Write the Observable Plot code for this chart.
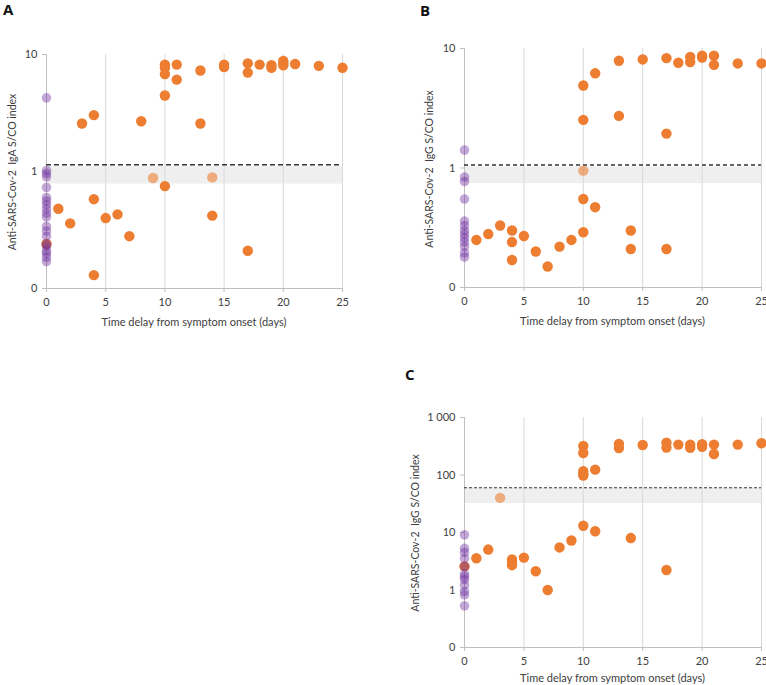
<!DOCTYPE html>
<html><head><meta charset="utf-8">
<script src="https://cdn.jsdelivr.net/npm/d3@7"></script>
<script src="https://cdn.jsdelivr.net/npm/@observablehq/plot@0.6"></script>
<style>
body{margin:0;background:#fff;font-family:Lato,"Open Sans",sans-serif;}
#wrap{position:relative;width:766px;height:685px;overflow:hidden;background:#fff;}
.panel{position:absolute;}
.letter{position:absolute;font:bold 15px "Open Sans",Arial,sans-serif;color:#111;line-height:1;}
.xt{position:absolute;font-size:11px;color:#404040;white-space:pre;transform:translate(-50%,-50%);line-height:1;}
.yt{position:absolute;font-size:10.5px;color:#404040;white-space:pre;transform:translate(-50%,-50%) rotate(-90deg);line-height:1;}
</style></head>
<body><div id="wrap"></div>
<script>
// ---------- shared axis data ----------
const dayTicks = [0, 5, 10, 15, 20, 25];
const dayDomain = [0, 25];
const xTitle = "Time delay from symptom onset (days)";

// ---------- Panel A : IgA ----------
const aPatients = [ // [days, S/CO]
  [10,8.2],[10,7.7],[10,6.8],[11,8.2],[11,6.1],[13,7.3],[15,8.2],[15,7.8],[17,8.4],[17,7.0],
  [18,8.2],[19,8.1],[19,7.7],[20,8.8],[20,8.4],[20,8.1],[21,8.3],[23,8.0],[25,7.7],[10,4.46],
  [3,2.57],[4,3.03],[8,2.69],[13,2.57],[10,0.75],[4,0.58],[1,0.48],[2,0.36],[5,0.40],[6,0.43],
  [7,0.28],[14,0.42],[17,0.21],[4,0.13],[0,0.24]
];
const aBorderline = [[9,0.88],[14,0.89]];
const aControls = [4.26,1.02,0.96,0.90,0.73,0.60,0.56,0.52,0.48,0.44,0.41,0.34,0.31,0.28,0.24,0.23,0.21,0.20,0.185,0.17];
const aBand = [0.78, 1.11];
const aCutoff = 1.14;
const aYTicks = [0.1, 1, 10];
const aYTitle = "Anti-SARS-Cov-2  IgA S/CO index";

// ---------- Panel B : IgG ----------
const bPatients = [
  [10,4.9],[11,6.2],[13,7.9],[15,8.1],[17,8.3],[18,7.6],[19,8.5],[19,7.7],[20,8.7],[20,8.4],
  [21,8.7],[21,7.3],[23,7.5],[25,7.5],[10,2.53],[13,2.73],[17,1.94],[10,0.55],[11,0.47],[10,0.29],
  [14,0.30],[14,0.21],[17,0.21],[1,0.25],[2,0.28],[3,0.33],[4,0.30],[4,0.24],[4,0.17],[5,0.27],
  [6,0.20],[7,0.15],[8,0.22],[9,0.25]
];
const bBorderline = [[10,0.95]];
const bControls = [1.41,0.84,0.77,0.55,0.36,0.33,0.30,0.28,0.26,0.24,0.22,0.195,0.18];
const bBand = [0.74, 1.02];
const bCutoff = 1.06;
const bYTicks = [0.1, 1, 10];
const bYTitle = "Anti-SARS-Cov-2  IgG S/CO index";

// ---------- Panel C : IgG ----------
const cPatients = [
  [10,319],[10,241],[10,117],[10,104],[10,98],[11,124],[13,346],[13,294],[15,333],[17,366],
  [17,300],[18,338],[19,338],[19,297],[20,343],[20,310],[21,338],[21,232],[23,338],[25,357],
  [10,13.1],[11,10.5],[14,8.0],[9,7.25],[8,5.5],[2,5.05],[1,3.57],[4,3.4],[4,3.1],[4,2.7],
  [5,3.66],[6,2.12],[7,1.0],[17,2.23],[0,2.57]
];
const cBorderline = [[3,40]];
const cControls = [9.1,5.3,4.5,3.55,2.57,1.89,1.70,1.51,1.22,0.94,0.82,0.53];
const cBand = [32, 59];
const cCutoff = 60;
const cYTicks = [0.1, 1, 10, 100, 1000];
const cYTitle = "Anti-SARS-Cov-2  IgG S/CO index";

// ---------- colours ----------
const ORANGE = "#ED7D31";
const PURPLE = "#7030A0";

const fmt = d => d < 1 ? "0" : d >= 1000 ? d3.format(",")(d).replace(/,/g, " ") : String(d);

const wrap = document.getElementById("wrap");
function addDiv(cls, text, x, y) {
  const el = document.createElement("div");
  el.className = cls; el.textContent = text;
  el.style.left = x + "px"; el.style.top = y + "px";
  wrap.appendChild(el);
}

function panel(cfg) {
  const controls = cfg.controls.map(v => ({day: 0, v}));
  const patients = cfg.patients.map(([day, v]) => ({day, v}));
  const border = cfg.borderline.map(([day, v]) => ({day, v}));
  const band = [{x1: dayDomain[0], x2: dayDomain[1], y1: cfg.band[0], y2: cfg.band[1]}];
  const yDomain = [cfg.yTicks[0], cfg.yTicks[cfg.yTicks.length - 1]];
  const p = Plot.plot({
    width: cfg.width, height: cfg.height,
    marginLeft: cfg.m[0], marginRight: cfg.m[1], marginTop: cfg.m[2], marginBottom: cfg.m[3],
    style: {fontSize: "11px", fontFamily: "Lato, 'Open Sans', sans-serif", color: "#404040", background: "transparent", overflow: "visible"},
    x: {domain: dayDomain, label: null},
    y: {type: "log", domain: yDomain, label: null},
    marks: [
      Plot.rect(band, {x1: "x1", x2: "x2", y1: "y1", y2: "y2", fill: "#efefef"}),
      Plot.ruleX(dayTicks.slice(1), {stroke: "#d9d9d9", strokeWidth: 1}),
      Plot.ruleX([0], {stroke: "#bfbfbf", strokeWidth: 1}),
      Plot.ruleY([yDomain[0]], {stroke: "#bfbfbf", strokeWidth: 1}),
      Plot.ruleY([cfg.cutoff], {stroke: "#333", strokeWidth: cfg.dashW, strokeDasharray: cfg.dash}),
      Plot.axisX({ticks: dayTicks, tickSize: 4, tickPadding: 6, label: null, stroke: "#bfbfbf", fill: "#404040"}),
      Plot.axisY({ticks: cfg.yTicks, tickFormat: fmt, tickSize: 4, tickPadding: 5, label: null, stroke: "#bfbfbf", fill: "#404040"}),
      Plot.dot(patients, {x: "day", y: "v", r: 5.2, fill: ORANGE, stroke: "none"}),
      Plot.dot(border, {x: "day", y: "v", r: 5.2, fill: ORANGE, fillOpacity: 0.6, stroke: "none"}),
      Plot.dot(controls, {x: "day", y: "v", r: 4.8, fill: PURPLE, fillOpacity: 0.42, stroke: "none"})
    ]
  });
  p.classList.add("panel");
  p.style.left = cfg.left + "px"; p.style.top = cfg.top + "px";
  wrap.appendChild(p);
  const x0 = cfg.left + cfg.m[0], x1 = cfg.left + cfg.width - cfg.m[1];
  const y0 = cfg.top + cfg.m[2], y1 = cfg.top + cfg.height - cfg.m[3];
  addDiv("xt", xTitle, (x0 + x1) / 2, y1 + cfg.xtOff);
  addDiv("yt", cfg.yTitle, cfg.yTitleX, (y0 + y1) / 2 + 1);
  addDiv("letter", cfg.letter, cfg.lx, cfg.ly);
}

panel({letter: "A", lx: 3, ly: 2, left: 0, top: 0, width: 383, height: 330, m: [46, 41, 54, 42], xtOff: 33,
  patients: aPatients, borderline: aBorderline, controls: aControls, band: aBand, cutoff: aCutoff,
  yTicks: aYTicks, yTitle: aYTitle, yTitleX: 12, dash: "5,3", dashW: 1.5});
panel({letter: "B", lx: 420, ly: 3, left: 383, top: 0, width: 383, height: 330, m: [81, 5, 48, 43], xtOff: 33,
  patients: bPatients, borderline: bBorderline, controls: bControls, band: bBand, cutoff: bCutoff,
  yTicks: bYTicks, yTitle: bYTitle, yTitleX: 429, dash: "4,3", dashW: 1.3});
panel({letter: "C", lx: 405, ly: 367, left: 383, top: 330, width: 383, height: 355, m: [81, 5, 87, 38], xtOff: 30,
  patients: cPatients, borderline: cBorderline, controls: cControls, band: cBand, cutoff: cCutoff,
  yTicks: cYTicks, yTitle: cYTitle, yTitleX: 415, dash: "3,2", dashW: 1});
</script>
</body></html>
